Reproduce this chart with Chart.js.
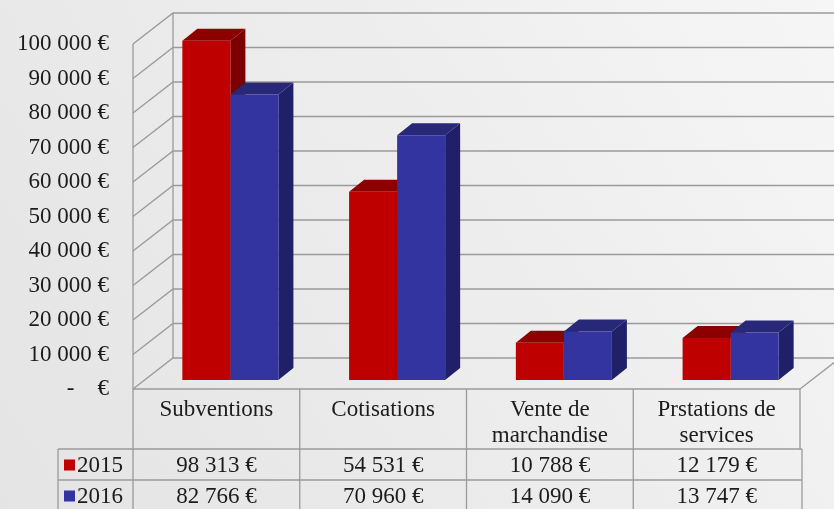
<!DOCTYPE html>
<html>
<head>
<meta charset="utf-8">
<script src="https://cdn.jsdelivr.net/npm/chart.js@4"></script>
<style>
    html, body { margin: 0; padding: 0; }
    #wrap { width: 834px; height: 509px; position: relative; }
</style>
</head>
<body>
<div id="wrap"><canvas id="recettesChart"></canvas></div>
<script>
// Data
const categories = ['Subventions', 'Cotisations', ['Vente de', 'marchandise'], ['Prstations de', 'services']];
const years = ['2015', '2016'];
const values2015 = [98313, 54531, 10788, 12179];
const values2016 = [82766, 70960, 14090, 13747];
const yMax = 100000;
const yStep = 10000;

// Colours: front, side, top
const faces = [
    { front: 'rgb(190, 0, 0)', side: 'rgb(125, 0, 0)', top: 'rgb(140, 0, 0)' },
    { front: 'rgb(52, 52, 160)', side: 'rgb(32, 32, 105)', top: 'rgb(40, 40, 120)' }
];

const FONT_FAMILY = '"Liberation Serif", "Times New Roman", serif';
const FONT_SIZE = 23;
const FONT = FONT_SIZE + 'px ' + FONT_FAMILY;
const TEXT = '#1c1c1c';
const LINE = '#9a9a9a';

// 3D offsets (wall depth, bar depth, bar shift in the box)
const WALL_DX = 40, WALL_DY = -31;
const BAR_DX = 15, BAR_DY = -12;
const SHIFT_X = 14, SHIFT_Y = -9;

function euro(v) {
    if (v === 0) return '-    €';
    return String(v).replace(/\B(?=(\d{3})+(?!\d))/g, ' ') + ' €';
}

const backgroundPlugin = {
    id: 'background',
    beforeDraw(chart) {
        const ctx = chart.ctx;
        const g = ctx.createLinearGradient(0, chart.height, chart.width, 0);
        g.addColorStop(0, '#e4e4e4');
        g.addColorStop(0.6, '#eeeeee');
        g.addColorStop(1, '#f6f6f6');
        ctx.save();
        ctx.fillStyle = g;
        ctx.fillRect(0, 0, chart.width, chart.height);
        ctx.restore();
    }
};

function poly(ctx, pts, fill) {
    ctx.beginPath();
    ctx.moveTo(pts[0][0], pts[0][1]);
    for (let i = 1; i < pts.length; i++) ctx.lineTo(pts[i][0], pts[i][1]);
    ctx.closePath();
    ctx.fillStyle = fill;
    ctx.fill();
}

const box3dPlugin = {
    id: 'box3d',
    beforeDatasetsDraw(chart) {
        const ctx = chart.ctx;
        const a = chart.chartArea;
        const y = chart.scales.y;
        ctx.save();
        ctx.strokeStyle = LINE;
        ctx.lineWidth = 1.3;

        // side wall, back wall and floor lines
        for (let v = 0; v <= yMax; v += yStep) {
            const py = y.getPixelForValue(v);
            ctx.beginPath();
            ctx.moveTo(a.left, py);
            ctx.lineTo(a.left + WALL_DX, py + WALL_DY);
            ctx.lineTo(a.right + WALL_DX, py + WALL_DY);
            ctx.stroke();
        }
        ctx.beginPath();
        ctx.moveTo(a.left, a.top);
        ctx.lineTo(a.left, a.bottom);
        ctx.moveTo(a.left + WALL_DX, a.top + WALL_DY);
        ctx.lineTo(a.left + WALL_DX, a.bottom + WALL_DY);
        ctx.moveTo(a.right, a.bottom);
        ctx.lineTo(a.right + WALL_DX, a.bottom + WALL_DY);
        ctx.stroke();

        // side and top faces, drawn behind the front faces
        const n = chart.data.labels.length;
        for (let i = 0; i < n; i++) {
            chart.data.datasets.forEach((ds, d) => {
                const bar = chart.getDatasetMeta(d).data[i];
                const p = bar.getProps(['x', 'y', 'base', 'width'], true);
                const l = p.x - p.width / 2 + SHIFT_X;
                const r = p.x + p.width / 2 + SHIFT_X;
                const t = p.y + SHIFT_Y;
                const b = p.base + SHIFT_Y;
                poly(ctx, [[r, t], [r + BAR_DX, t + BAR_DY], [r + BAR_DX, b + BAR_DY], [r, b]], faces[d].side);
                poly(ctx, [[l, t], [l + BAR_DX, t + BAR_DY], [r + BAR_DX, t + BAR_DY], [r, t]], faces[d].top);
            });
        }
        ctx.restore();

        // front faces are drawn by Chart.js, shifted into the box
        ctx.save();
        ctx.translate(SHIFT_X, SHIFT_Y);
    },
    afterDatasetsDraw(chart) {
        chart.ctx.restore();
    }
};

const dataTablePlugin = {
    id: 'dataTable',
    afterDraw(chart) {
        const ctx = chart.ctx;
        const a = chart.chartArea;
        const x = chart.scales.x;
        const n = chart.data.labels.length;
        const colW = (a.right - a.left) / n;
        const headTop = a.bottom, headBottom = a.bottom + 60;
        const rowH = 31;
        const rowLeft = 58;

        ctx.save();
        ctx.strokeStyle = LINE;
        ctx.lineWidth = 1.3;
        ctx.beginPath();
        ctx.moveTo(a.left, headTop);
        ctx.lineTo(a.right, headTop);
        for (let i = 0; i <= n; i++) {
            const px = a.left + i * colW;
            ctx.moveTo(px, headTop);
            ctx.lineTo(px, headBottom);
        }
        for (let r = 0; r <= 2; r++) {
            ctx.moveTo(rowLeft, headBottom + r * rowH);
            ctx.lineTo(a.right + 2, headBottom + r * rowH);
        }
        ctx.moveTo(rowLeft, headBottom);
        ctx.lineTo(rowLeft, headBottom + 2 * rowH);
        for (let i = 0; i < n; i++) {
            const px = a.left + i * colW;
            ctx.moveTo(px, headBottom);
            ctx.lineTo(px, headBottom + 2 * rowH);
        }
        ctx.moveTo(a.right + 2, headBottom);
        ctx.lineTo(a.right + 2, headBottom + 2 * rowH);
        ctx.stroke();

        ctx.font = FONT;
        ctx.fillStyle = TEXT;
        ctx.textAlign = 'center';
        ctx.textBaseline = 'middle';
        chart.data.labels.forEach((lab, i) => {
            const cx = x.getPixelForValue(i);
            const lines = Array.isArray(lab) ? lab : [lab];
            lines.forEach((ln, k) => ctx.fillText(ln, cx, headTop + 21 + k * 26));
        });

        chart.data.datasets.forEach((ds, d) => {
            const cy = headBottom + d * rowH + rowH / 2 + 1;
            ctx.fillStyle = faces[d].front;
            ctx.fillRect(64, cy - 6, 11, 11);
            ctx.fillStyle = TEXT;
            ctx.textAlign = 'left';
            ctx.fillText(ds.label, 77, cy);
            ctx.textAlign = 'center';
            ds.data.forEach((v, i) => ctx.fillText(euro(v), x.getPixelForValue(i), cy));
        });
        ctx.restore();
    }
};

const ctx = document.getElementById('recettesChart').getContext('2d');
const recettesChart = new Chart(ctx, {
    type: 'bar',
    data: {
        labels: categories,
        datasets: [{
                label: years[0],
                data: values2015,
                backgroundColor: faces[0].front,
                categoryPercentage: 0.576,
                barPercentage: 1.0,
                clip: false
            },
            {
                label: years[1],
                data: values2016,
                backgroundColor: faces[1].front,
                categoryPercentage: 0.576,
                barPercentage: 1.0,
                clip: false
            }
        ]
    },
    options: {
        responsive: true,
        maintainAspectRatio: false,
        animation: false,
        layout: {
            padding: { left: 0, right: 34, top: 44, bottom: 120 }
        },
        plugins: {
            legend: { display: false },
            tooltip: { enabled: false }
        },
        scales: {
            x: {
                display: false
            },
            y: {
                min: 0,
                max: yMax,
                afterFit: function(scale) {
                    scale.width = 133;
                },
                border: { display: false },
                grid: { display: false, drawTicks: false },
                ticks: {
                    stepSize: yStep,
                    padding: 24,
                    color: TEXT,
                    font: { family: FONT_FAMILY, size: FONT_SIZE },
                    callback: function(v) {
                        return euro(v);
                    }
                }
            }
        }
    },
    plugins: [backgroundPlugin, box3dPlugin, dataTablePlugin]
});
</script>
</body>
</html>
